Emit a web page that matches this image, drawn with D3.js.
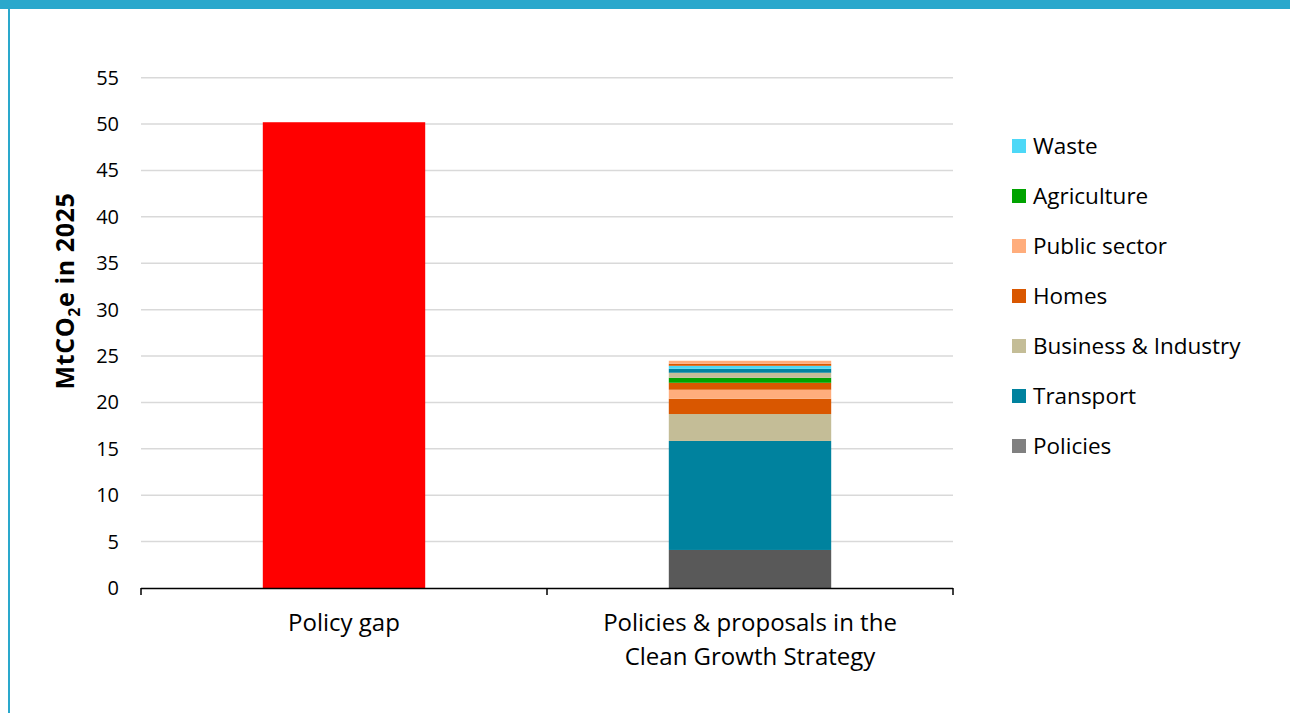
<!DOCTYPE html>
<html>
<head>
<meta charset="utf-8">
<script src="https://cdn.jsdelivr.net/npm/d3@7"></script>
<style>
  html, body { margin: 0; padding: 0; background: #fff; }
  svg { display: block; font-family: "Open Sans", "Noto Sans", sans-serif; }
</style>
</head>
<body>
<svg id="chart" width="1290" height="713"></svg>
<script>
// ---- data ----
const categories = ["Policy gap", "Policies & proposals in the Clean Growth Strategy"];
const categoryLines = [["Policy gap"], ["Policies & proposals in the", "Clean Growth Strategy"]];
const policyGapValue = 50.2;
const legendSeries = ["Waste", "Agriculture", "Public sector", "Homes", "Business & Industry", "Transport", "Policies"];
const seriesColors = ["#4dd8f7", "#00a300", "#ffad7c", "#d95700", "#c4bd97", "#00829e", "#595959"];
const legendColors = ["#4dd8f7", "#00a300", "#ffad7c", "#d95700", "#c4bd97", "#00829e", "#808080"];
// stacked segments, bottom to top
const stackSeries = ["Policies", "Transport", "Business & Industry", "Homes", "Public sector", "Homes", "Agriculture", "Business & Industry", "Transport", "Waste", "Homes", "Public sector"];
const stackValues = [4.1, 11.75, 2.9, 1.65, 0.97, 0.75, 0.54, 0.54, 0.43, 0.32, 0.22, 0.32];
const yTicks = [0, 5, 10, 15, 20, 25, 30, 35, 40, 45, 50, 55];

// ---- layout ----
const svg = d3.select("#chart");
const plot = { left: 141, right: 953, top: 77.7, bottom: 588 };
const frameColor = "#2aa8cc";

svg.append("rect").attr("x", 0).attr("y", 0).attr("width", 1290).attr("height", 9).attr("fill", frameColor);
svg.append("rect").attr("x", 8).attr("y", 0).attr("width", 2).attr("height", 713).attr("fill", frameColor);

const x = d3.scaleBand().domain(categories).range([plot.left, plot.right]).paddingInner(0).paddingOuter(0);
const y = d3.scaleLinear().domain([0, 55]).range([plot.bottom, plot.top]);
const color = d3.scaleOrdinal().domain(legendSeries).range(seriesColors);
const barW = x.bandwidth() * 0.4;

// gridlines
svg.append("g").selectAll("line").data(yTicks.filter(d => d > 0)).join("line")
  .attr("x1", plot.left).attr("x2", plot.right)
  .attr("y1", d => y(d)).attr("y2", d => y(d))
  .attr("stroke", "#d9d9d9").attr("stroke-width", 1.5);

// y tick labels
svg.append("g").selectAll("text").data(yTicks).join("text")
  .attr("x", 119).attr("y", d => y(d)).attr("dy", "0.35em")
  .attr("text-anchor", "end").attr("font-size", 20).attr("fill", "#000")
  .text(d => d);

// y title
const yt = svg.append("text")
  .attr("transform", "translate(74,291) rotate(-90)")
  .attr("text-anchor", "middle").attr("font-size", 25).attr("font-weight", "bold")
  .attr("letter-spacing", 0.6).attr("fill", "#000");
yt.append("tspan").text("MtCO");
yt.append("tspan").text("2").attr("font-size", 16).attr("dy", 6);
yt.append("tspan").text("e in 2025").attr("dy", -6);

// policy gap bar
svg.append("rect")
  .attr("x", x(categories[0]) + (x.bandwidth() - barW) / 2)
  .attr("y", y(policyGapValue))
  .attr("width", barW)
  .attr("height", y(0) - y(policyGapValue))
  .attr("fill", "#ff0000");

// stacked bar
let acc = 0;
const segs = stackValues.map((v, i) => { const s = { y0: acc, y1: acc + v, name: stackSeries[i] }; acc += v; return s; });
svg.append("g").selectAll("rect").data(segs).join("rect")
  .attr("x", x(categories[1]) + (x.bandwidth() - barW) / 2)
  .attr("y", d => y(d.y1))
  .attr("width", barW)
  .attr("height", d => y(d.y0) - y(d.y1))
  .attr("fill", d => color(d.name));

// x axis
const axisG = svg.append("g");
axisG.append("line").attr("x1", plot.left).attr("x2", plot.right)
  .attr("y1", plot.bottom + 0.5).attr("y2", plot.bottom + 0.5)
  .attr("stroke", "#000").attr("stroke-width", 1.5);
const tickXs = [plot.left, x(categories[1]), plot.right];
axisG.selectAll("line.tick").data(tickXs).join("line").attr("class", "tick")
  .attr("x1", d => d).attr("x2", d => d)
  .attr("y1", plot.bottom).attr("y2", plot.bottom + 7)
  .attr("stroke", "#000").attr("stroke-width", 1.5);

// category labels
categories.forEach((c, i) => {
  const t = svg.append("text").attr("text-anchor", "middle").attr("font-size", 24).attr("fill", "#000");
  categoryLines[i].forEach((line, j) => {
    t.append("tspan").attr("x", x(c) + x.bandwidth() / 2).attr("y", 631 + j * 34).text(line);
  });
});

// legend
const leg = svg.append("g").selectAll("g").data(legendSeries).join("g")
  .attr("transform", (d, i) => `translate(1012, ${146 + i * 50})`);
leg.append("rect").attr("x", 0).attr("y", -7).attr("width", 14).attr("height", 14)
  .attr("fill", (d, i) => legendColors[i]);
leg.append("text").attr("x", 21).attr("y", 0).attr("dy", "0.35em")
  .attr("font-size", 22.5).attr("fill", "#000").text(d => d);
</script>
</body>
</html>
